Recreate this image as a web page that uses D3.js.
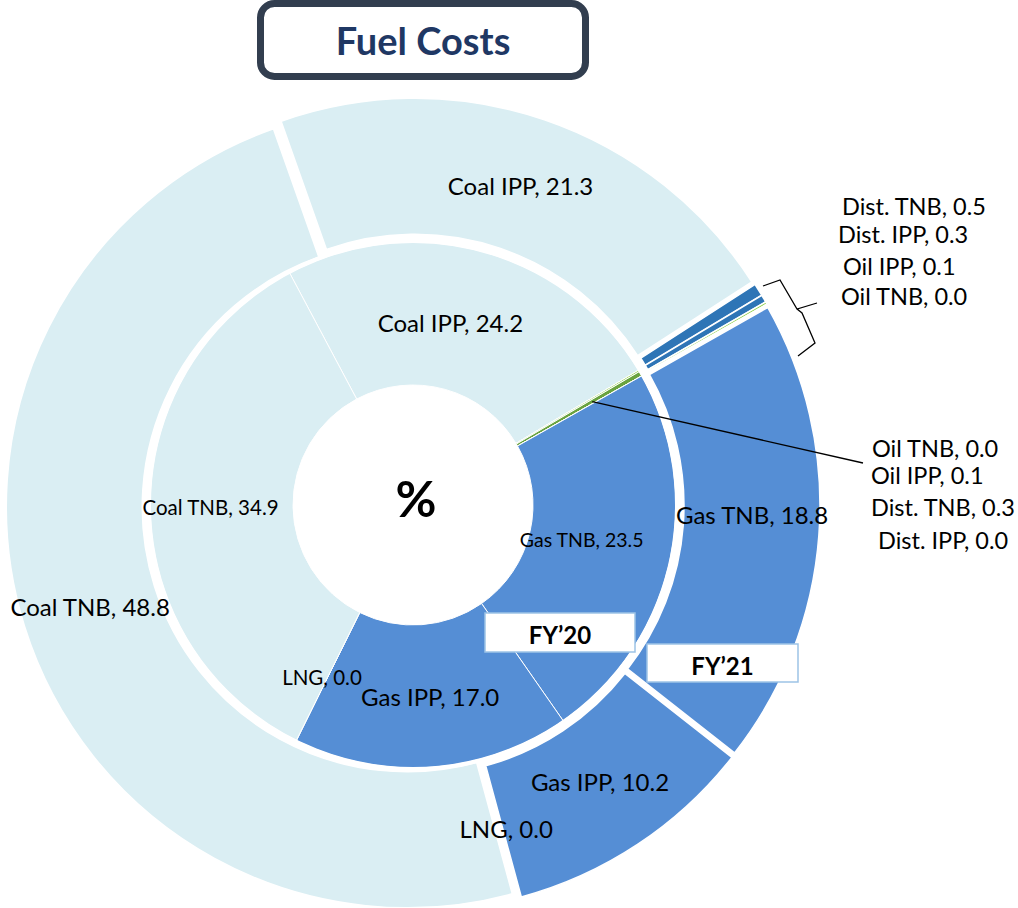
<!DOCTYPE html>
<html><head><meta charset="utf-8">
<script src="https://cdn.jsdelivr.net/npm/d3@7"></script>
<style>body{margin:0;background:#fff} text{font-family: Lato, "Open Sans", sans-serif}</style>
</head><body><svg id="c" width="1018" height="908"></svg>
<script>
// ---- data ----
const categoriesFY20 = ["Coal IPP","Oil TNB","Oil IPP","Dist. TNB","Dist. IPP","Gas TNB","Gas IPP","LNG","Coal TNB"];
const valuesFY20     = [24.2, 0.0, 0.1, 0.3, 0.0, 23.5, 17.0, 0.0, 34.9];
const categoriesFY21 = ["Coal IPP","Dist. TNB","Dist. IPP","Oil IPP","Oil TNB","Gas TNB","Gas IPP","LNG","Coal TNB"];
const valuesFY21     = [21.3, 0.5, 0.3, 0.1, 0.0, 18.8, 10.2, 0.0, 48.8];
const colorsFY20 = ["#DAEEF3","#A9D18E","#92D050","#6AA33F","#2E75B6","#558ED5","#558ED5","#DAEEF3","#DAEEF3"];
const colorsFY21 = ["#DAEEF3","#2E75B6","#2E75B6","#92D050","#92D050","#558ED5","#558ED5","#DAEEF3","#DAEEF3"];
const ringNames = ["FY’20","FY’21"];
const titleText = "Fuel Costs";
const unitText = "%";
const smallCats = ["Oil TNB","Oil IPP","Dist. TNB","Dist. IPP"];

// ---- layout ----
const svg = d3.select("#c");
const cx = 413, cy = 505;
const deg = Math.PI/180;
const fmt = d3.format(".1f");

const inner = {r0:120, r1:263, start:-28*deg};
const outer = {r0:265, r1:401, start:-19.5*deg, explode:6};

function mkPie(start){ return d3.pie().sort(null).value(d=>d.v).startAngle(start).endAngle(start+2*Math.PI); }

const d20 = categoriesFY20.map((c,i)=>({c, v:valuesFY20[i], col:colorsFY20[i]}));
const d21 = categoriesFY21.map((c,i)=>({c, v:valuesFY21[i], col:colorsFY21[i]}));
const p20 = mkPie(inner.start)(d20);
const p21 = mkPie(outer.start)(d21);

const g = svg.append("g").attr("transform",`translate(${cx},${cy})`);
const arcIn = d3.arc().innerRadius(inner.r0).outerRadius(inner.r1);
const arcOut = d3.arc().innerRadius(outer.r0).outerRadius(outer.r1);

// outer ring (exploded)
g.append("g").selectAll("path").data(p21).join("path")
  .attr("d", arcOut)
  .attr("transform", d=>{const m=(d.startAngle+d.endAngle)/2; return `translate(${outer.explode*Math.sin(m)},${-outer.explode*Math.cos(m)})`;})
  .attr("fill", d=>d.data.col).attr("stroke","#fff").attr("stroke-width",1.5);

// inner ring
g.append("g").selectAll("path").data(p20).join("path")
  .attr("d", arcIn).attr("fill", d=>d.data.col).attr("stroke","#fff").attr("stroke-width",1);

// boundary between rings
g.append("circle").attr("r", inner.r1+1).attr("fill","none").attr("stroke","#fff").attr("stroke-width",4);

// in-ring labels
const labelFont = 24;
function addLabels(pies, ringR, nudge, sizes){
  const lab = d3.arc().innerRadius(ringR).outerRadius(ringR);
  pies.filter(d=>!smallCats.includes(d.data.c)).forEach(d=>{
    const [x,y] = lab.centroid(d);
    const n = nudge[d.data.c]||[0,0];
    g.append("text").attr("x",x+n[0]).attr("y",y+n[1]).attr("text-anchor","middle")
      .attr("dominant-baseline","central").attr("font-size",sizes[d.data.c]||labelFont).attr("fill","#000")
      .text(`${d.data.c}, ${fmt(d.data.v)}`);
  });
}
addLabels(p20, (inner.r0+inner.r1)/2,
  {"Coal IPP":[-14,2],"Gas TNB":[-18,-8],"Coal TNB":[-11,-1],"LNG":[-6,0],"Gas IPP":[3,1]},
  {"Gas TNB":19.5,"Coal TNB":20.5,"LNG":20.5});
addLabels(p21, (outer.r0+outer.r1)/2,
  {"Gas TNB":[7,-15],"Coal TNB":[-5,2],"LNG":[6,2],"Gas IPP":[3,-1],"Coal IPP":[0,-4]}, {});

// side label lists
const topList = p21.filter(d=>smallCats.includes(d.data.c));
const topX = [842,838,843,841], topY=[206,234,266,296];
svg.append("g").selectAll("text").data(topList).join("text")
  .attr("x",(d,i)=>topX[i]).attr("y",(d,i)=>topY[i]).attr("dominant-baseline","central")
  .attr("font-size",23.5).text(d=>`${d.data.c}, ${fmt(d.data.v)}`);
const botList = p20.filter(d=>smallCats.includes(d.data.c));
const botX = [872,871,871,878], botY=[448,475,507,540];
svg.append("g").selectAll("text").data(botList).join("text")
  .attr("x",(d,i)=>botX[i]).attr("y",(d,i)=>botY[i]).attr("dominant-baseline","central")
  .attr("font-size",23.5).text(d=>`${d.data.c}, ${fmt(d.data.v)}`);

// leader line from inner small slices
const oilIn = p20.find(d=>d.data.c==="Dist. TNB");
const la = (oilIn.startAngle+oilIn.endAngle)/2, lr = 207;
svg.append("line").attr("x1",cx+lr*Math.sin(la)).attr("y1",cy-lr*Math.cos(la))
  .attr("x2",863).attr("y2",463).attr("stroke","#000").attr("stroke-width",1.3);

// brace for outer small slices
svg.append("path").attr("d","M763,286 L780,280 L797,309 L817,303 M797,309 L802,313 L815,343 L798,356")
  .attr("fill","none").attr("stroke","#000").attr("stroke-width",1.3);

// center unit
svg.append("text").attr("x",416).attr("y",498).attr("text-anchor","middle").attr("dominant-baseline","central")
  .attr("font-family","Liberation Sans, Arial, sans-serif").attr("font-weight","bold").attr("font-size",50).text(unitText);

// ring name boxes
const boxes = [{x:485,y:613,w:150,h:39},{x:647,y:644,w:151,h:38}];
boxes.forEach((b,i)=>{
  svg.append("rect").attr("x",b.x).attr("y",b.y).attr("width",b.w).attr("height",b.h)
    .attr("fill","#fff").attr("stroke","#9DC3E6").attr("stroke-width",1.5);
  svg.append("text").attr("x",b.x+b.w/2).attr("y",b.y+b.h/2+2).attr("text-anchor","middle")
    .attr("dominant-baseline","central").attr("font-weight","bold").attr("font-size",24).text(ringNames[i]);
});

// title
svg.append("rect").attr("x",260.5).attr("y",3.5).attr("width",325).attr("height",73).attr("rx",14)
  .attr("fill","#fff").attr("stroke","#323E4F").attr("stroke-width",7);
svg.append("text").attr("x",423).attr("y",40).attr("text-anchor","middle").attr("dominant-baseline","central")
  .attr("font-weight","bold").attr("font-size",38).attr("fill","#1F3864").text(titleText);
</script></body></html>
